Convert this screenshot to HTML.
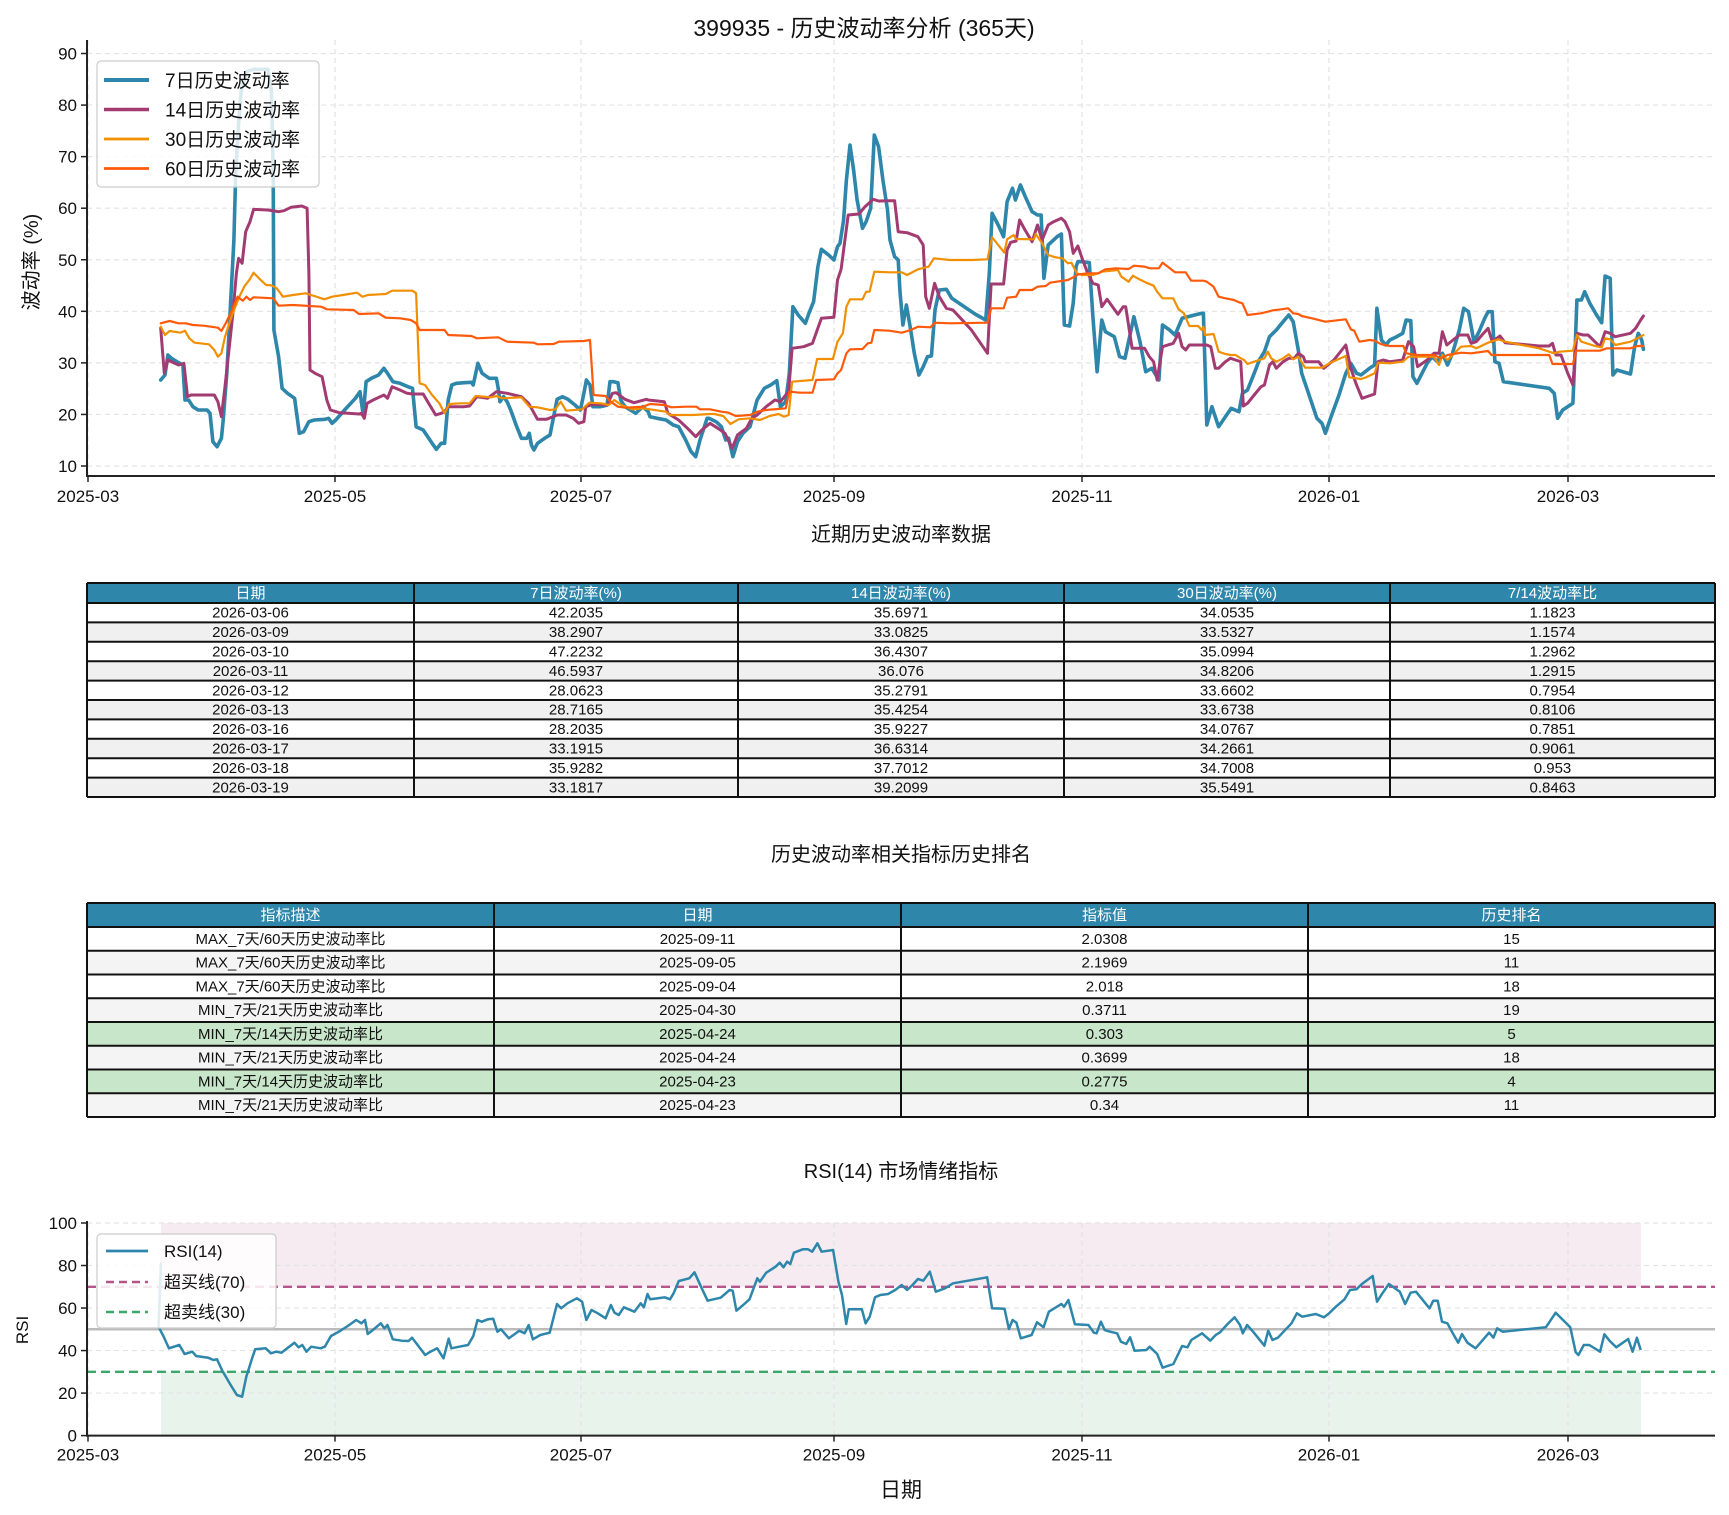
<!DOCTYPE html>
<html><head><meta charset="utf-8"><style>
html,body{margin:0;padding:0;background:#fff;}
svg{display:block;font-family:"WenQuanYi Zen Hei","Liberation Sans","Noto Sans CJK SC",sans-serif;}
</style></head><body>
<svg id="s" width="1729" height="1515" viewBox="0 0 1729 1515" xmlns="http://www.w3.org/2000/svg">
<rect width="1729" height="1515" fill="#fff"/>
<g id="g"></g>
</svg>
<script>
const NS="http://www.w3.org/2000/svg";
const G=document.getElementById('g');
function el(t,a,txt){const e=document.createElementNS(NS,t);for(const k in a)e.setAttribute(k,a[k]);if(txt!==undefined)e.textContent=txt;G.appendChild(e);return e;}
function line(x1,y1,x2,y2,st,w,da){return el('line',{x1,y1,x2,y2,stroke:st,'stroke-width':w,'stroke-dasharray':da||'none'});}
function text(x,y,s,size,anchor,fill,extra){const a={x,y,'font-size':size,'text-anchor':anchor||'middle',fill:fill||'#111'};Object.assign(a,extra||{});return el('text',a,s);}

// ---------- Top chart ----------
const L=87,R=1715,TB=476;
const vy=v=>466-(v-10)*5.156;
const xd=[88,335,581,834,1082,1329,1568];
const xl=['2025-03','2025-05','2025-07','2025-09','2025-11','2026-01','2026-03'];
for(let v=10;v<=90;v+=10){line(L,vy(v),R,vy(v),'#e3e3e3',1.2,'5,4');}
xd.forEach(x=>line(x,40,x,TB,'#e3e3e3',1.2,'5,4'));
text(864,36,'399935 - 历史波动率分析 (365天)',23);
el('text',{x:38,y:262,'font-size':20,'text-anchor':'middle',fill:'#111',transform:'rotate(-90 38 262)'},'波动率 (%)');

function pts(segs){let out=[];let lastx=-1;segs.forEach(([ox,sx,arr])=>{arr.forEach(([zx,zy])=>{const x=ox+zx/sx,y=40+zy/3;if(x>lastx){out.push(x.toFixed(1)+','+y.toFixed(1));lastx=x;}});});return out.join(' ');}
const blue3=[[30,1020],[42,1005],[50,945],[60,955],[75,965],[92,975],[98,1080],[108,1080],[120,1100],[135,1110],[160,1110],[168,1120],[176,1205],[188,1220],[200,1195],[205,1140],[215,1000],[225,800],[235,600],[240,400],[248,250],[256,150],[270,95],[290,88],[330,88],[340,150],[345,400],[347,870],[360,950],[370,1045],[385,1060],[405,1075],[418,1180],[430,1175],[445,1145],[460,1140],[490,1138],[500,1135],[510,1150],[520,1140],[545,1110],[575,1075],[588,1055],[597,1125],[605,1025],[620,1015],[640,1005],[655,985],[665,1000],[680,1025],[700,1030],[722,1040],[735,1045],[745,1160],[765,1170],[790,1210],[802,1228],[815,1210],[825,1210],[835,1080],[845,1035],[858,1030],[880,1028],[900,1027],[905,1035],[918,970],[930,1000],[950,1015],[970,1015],[975,1045],[980,1085],[990,1070],[1000,1085],[1010,1110],[1025,1155],[1040,1195],[1055,1195],[1062,1180],[1068,1215],[1075,1230],[1085,1210],[1105,1195],[1120,1185],[1130,1130],[1140,1078],[1155,1070],[1170,1078],[1190,1095],[1205,1110],[1215,1060],[1222,1020],[1232,1035],[1240,1100],[1260,1100],[1270,1098],[1280,1095],[1288,1025],[1298,1025],[1310,1028],[1318,1080],[1330,1100],[1345,1110],[1360,1120],[1380,1100],[1395,1115],[1400,1130],[1420,1135],[1445,1140],[1465,1155],[1480,1160],[1500,1200],[1515,1235],[1528,1250],[1540,1200],[1560,1135]];
const blue4=[[0,1220],[10,1180],[25,1135],[45,1145],[60,1160],[72,1200],[80,1195],[92,1250],[105,1205],[120,1180],[140,1160],[160,1080],[180,1045],[198,1035],[215,1022],[225,1100],[240,1085],[250,1000],[260,800],[275,825],[295,850],[305,820],[318,785],[330,680],[340,628],[360,645],[375,660],[385,620],[392,610],[402,540],[410,420],[420,315],[430,390],[440,480],[455,565],[465,545],[478,505],[488,285],[500,320],[512,420],[525,510],[532,600],[545,650],[555,660],[560,755],[568,855],[578,795],[590,870],[600,940],[613,1005],[625,980],[637,950],[648,948],[658,810],[670,750],[690,748],[705,775],[740,800],[770,822],[800,840],[810,700],[818,520],[835,555],[850,590],[860,485],[875,445],[883,480],[897,435],[910,468],[930,515],[945,525],[955,525],[963,715],[975,615],[1000,590],[1012,582],[1020,855],[1035,858],[1045,790],[1053,680],[1058,665],[1070,665],[1090,668],[1100,830],[1112,995],[1125,840],[1135,875],[1160,890],[1175,950],[1190,955],[1215,830],[1232,905],[1248,995],[1265,985],[1285,1020],[1295,855],[1315,870],[1330,885],[1350,835],[1385,825],[1405,820]];
const blue5=[[10,820],[20,1155],[35,1100],[55,1160],[75,1130],[92,1105],[115,1115],[125,1060],[140,1050],[160,1000],[175,960],[190,935],[205,890],[225,870],[245,845],[262,825],[275,845],[290,930],[300,1000],[320,1060],[345,1135],[360,1150],[370,1180],[385,1135],[410,1065],[430,1000],[445,970],[462,1000],[475,1005],[500,985],[515,975],[522,805],[535,900],[548,915],[560,900],[580,890],[598,880],[608,840],[622,842],[628,1010],[640,1030],[655,1000],[670,970],[685,950],[700,965],[715,940],[730,975],[745,940],[765,870],[778,805],[792,815],[808,905],[823,875],[840,835],[850,815],[862,815],[870,965],[882,970],[895,1025],[1030,1045],[1045,1060],[1055,1135],[1070,1110],[1100,1090],[1105,970],[1112,780],[1125,780],[1135,755],[1150,790],[1170,825],[1185,848],[1195,708],[1210,715],[1218,1005],[1230,990],[1270,1002],[1282,920],[1293,880],[1303,900],[1308,928]];
const pur3=[[30,865],[40,1000],[50,960],[60,965],[80,975],[95,970],[105,1070],[115,1065],[140,1065],[180,1065],[190,1085],[200,1130],[210,1040],[220,940],[232,820],[242,700],[248,655],[258,670],[268,575],[280,545],[290,508],[330,510],[360,515],[375,512],[395,502],[425,498],[440,505],[445,700],[448,990],[462,1000],[482,1010],[495,1080],[505,1110],[530,1118],[555,1120],[585,1122],[592,1120],[600,1135],[608,1090],[625,1080],[655,1065],[665,1075],[678,1040],[700,1050],[720,1060],[735,1062],[765,1062],[780,1090],[800,1125],[815,1120],[825,1115],[835,1100],[880,1100],[895,1098],[915,1070],[945,1075],[970,1055],[1000,1060],[1040,1070],[1060,1090],[1085,1138],[1110,1138],[1140,1125],[1165,1125],[1185,1135],[1200,1150],[1215,1145],[1220,1100],[1240,1093],[1280,1095],[1295,1060],[1305,1058],[1330,1078],[1355,1088],[1390,1078],[1395,1080],[1440,1085],[1450,1120],[1480,1140],[1505,1165],[1528,1190],[1545,1170],[1568,1150]];
const pur4=[[0,1175],[20,1155],[50,1165],[70,1180],[90,1225],[105,1185],[130,1165],[145,1135],[160,1125],[185,1100],[210,1080],[225,1085],[240,1065],[248,1055],[258,925],[290,920],[315,910],[340,835],[375,832],[385,720],[395,688],[415,525],[445,522],[462,500],[485,478],[500,483],[545,482],[555,575],[580,578],[610,590],[625,615],[632,770],[642,805],[657,730],[670,770],[690,805],[708,810],[730,835],[760,870],[805,940],[815,732],[850,732],[860,630],[870,607],[885,603],[895,540],[910,570],[930,605],[945,555],[958,600],[975,555],[990,545],[1012,535],[1022,545],[1035,575],[1045,640],[1058,618],[1070,655],[1085,698],[1100,730],[1115,735],[1125,800],[1140,778],[1155,800],[1170,823],[1185,800],[1192,800],[1210,925],[1245,925],[1258,950],[1270,965],[1280,1020],[1295,920],[1325,910],[1340,880],[1350,920],[1360,930],[1370,915],[1405,915]];
const pur5=[[10,915],[20,915],[32,920],[45,985],[55,985],[75,965],[90,955],[105,960],[120,965],[128,1098],[140,1090],[160,1065],[180,1040],[190,1035],[205,975],[215,965],[225,985],[245,965],[262,955],[278,955],[290,940],[305,950],[310,965],[350,965],[365,985],[395,960],[430,915],[445,985],[460,1030],[478,1075],[515,1062],[525,965],[540,960],[560,965],[598,960],[615,905],[630,920],[642,980],[670,960],[690,940],[705,940],[715,875],[728,915],[765,885],[790,885],[800,910],[815,905],[832,885],[850,865],[862,905],[885,888],[900,908],[1000,918],[1030,918],[1040,910],[1050,945],[1065,945],[1085,1000],[1100,1035],[1112,880],[1130,885],[1145,885],[1165,905],[1180,920],[1195,875],[1210,880],[1225,890],[1270,880],[1285,865],[1300,840],[1308,828]];
const or3=[[30,860],[42,885],[55,873],[85,878],[98,872],[110,895],[125,908],[165,913],[180,930],[190,950],[200,940],[210,890],[230,825],[250,770],[265,738],[278,720],[290,698],[305,715],[325,735],[340,736],[355,745],[372,770],[400,765],[435,760],[460,768],[488,778],[510,770],[540,765],[580,758],[595,770],[610,765],[660,762],[678,752],[735,752],[745,760],[755,1030],[770,1035],[790,1065],[810,1090],[825,1120],[838,1092],[870,1090],[895,1090],[912,1068],[955,1072],[970,1068],[985,1075],[1040,1072],[1062,1100],[1085,1102],[1120,1110],[1135,1108],[1150,1085],[1165,1112],[1210,1108],[1230,1088],[1262,1090],[1285,1095],[1300,1080],[1320,1095],[1350,1108],[1380,1105],[1445,1115],[1455,1125],[1480,1125],[1520,1125],[1568,1122]];
const or4=[[0,1120],[40,1122],[65,1128],[85,1152],[108,1138],[140,1135],[168,1140],[195,1128],[220,1122],[235,1130],[248,1125],[258,1025],[315,1020],[328,957],[372,957],[385,905],[400,880],[410,800],[420,778],[455,778],[465,755],[475,755],[488,695],[530,697],[565,697],[580,705],[610,688],[640,680],[655,655],[700,660],[760,660],[805,658],[818,592],[835,615],[852,638],[860,598],[878,585],[885,597],[935,598],[940,582],[958,610],[975,645],[995,652],[1015,655],[1030,670],[1040,668],[1055,700],[1070,705],[1100,705],[1115,700],[1125,695],[1170,690],[1180,710],[1200,725],[1212,707],[1230,718],[1250,728],[1270,737],[1280,755],[1295,775],[1325,775],[1340,808],[1355,820],[1370,858],[1395,858],[1405,870]];
const or5=[[10,860],[15,885],[40,882],[55,935],[75,942],[90,945],[105,945],[120,955],[130,960],[140,972],[160,965],[190,955],[200,935],[210,955],[225,965],[245,955],[262,943],[275,958],[290,950],[310,983],[360,983],[385,968],[430,948],[440,1012],[475,1017],[490,1012],[515,1000],[525,968],[560,970],[598,965],[615,950],[650,950],[690,950],[705,975],[715,945],[730,960],[770,920],[800,918],[815,925],[850,908],[880,898],[900,905],[1000,925],[1045,940],[1060,935],[1100,932],[1112,885],[1125,905],[1165,918],[1185,922],[1195,895],[1210,898],[1225,915],[1270,905],[1290,895],[1308,885]];
const rd3=[[30,850],[55,843],[80,850],[100,850],[120,855],[150,857],[190,863],[200,873],[212,850],[230,810],[245,770],[260,782],[270,770],[280,780],[290,772],[345,775],[360,797],[400,795],[480,800],[495,808],[570,810],[585,822],[640,820],[660,833],[700,835],[730,840],[745,850],[755,870],[825,870],[835,885],[900,888],[915,895],[975,892],[1000,905],[1075,908],[1085,913],[1130,912],[1145,905],[1215,903],[1232,900],[1242,1065],[1275,1068],[1290,1085],[1310,1100],[1330,1103],[1380,1100],[1400,1092],[1440,1095],[1460,1102],[1500,1100],[1530,1100],[1540,1108],[1568,1108]];
const rd4=[[0,1108],[25,1107],[60,1115],[80,1118],[100,1128],[140,1125],[160,1115],[185,1110],[240,1105],[250,1055],[280,1058],[315,1058],[325,1020],[375,1018],[385,1000],[395,990],[410,940],[420,928],[455,927],[470,910],[480,908],[488,870],[530,872],[565,878],[590,870],[610,860],[645,862],[658,848],[700,850],[805,848],[815,805],[850,805],[860,773],[885,770],[895,750],[930,750],[945,740],[968,738],[980,728],[1030,720],[1045,712],[1060,703],[1085,700],[1115,700],[1135,688],[1165,685],[1200,687],[1215,677],[1245,680],[1260,685],[1285,685],[1295,668],[1310,680],[1330,697],[1360,697],[1375,722],[1405,722]];
const rd5=[[10,722],[20,725],[40,740],[55,770],[75,775],[100,780],[115,787],[125,790],[140,825],[180,820],[200,815],[215,811],[240,808],[260,805],[275,820],[290,822],[300,828],[330,835],[370,845],[430,838],[445,868],[455,872],[470,905],[500,900],[515,902],[535,913],[560,918],[600,918],[608,940],[640,945],[690,945],[710,955],[730,945],[770,938],[800,940],[850,933],[860,945],[900,945],[1030,945],[1040,972],[1070,972],[1100,972],[1110,932],[1180,932],[1200,925],[1225,925],[1270,925],[1290,918],[1308,918]];
function pl(p,c,w){el('polyline',{points:p,fill:'none',stroke:c,'stroke-width':w,'stroke-linejoin':'round','stroke-linecap':'round'});}
pl(pts([[150,2.8,blue3],[700,2.8,blue4],[1200,2.95,blue5]]),'#2e86ab',3.6);
pl(pts([[150,2.8,pur3],[700,2.8,pur4],[1200,2.95,pur5]]),'#a23b72',3);
pl(pts([[150,2.8,or3],[700,2.8,or4],[1200,2.95,or5]]),'#f18f01',2.2);
pl(pts([[150,2.8,rd3],[700,2.8,rd4],[1200,2.95,rd5]]),'#ff5a0a',2.2);
line(L,40,L,TB+1,'#222',2);line(L-1,TB,R,TB,'#222',2);
for(let v=10;v<=90;v+=10){line(L-6,vy(v),L,vy(v),'#222',1.5);text(L-10,vy(v)+6,String(v),17,'end');}
xd.forEach((x,i)=>{line(x,TB,x,TB+6,'#222',1.5);text(x,TB+26,xl[i],17);});
el('rect',{x:97,y:61,width:222,height:126,rx:4,fill:'#fff','fill-opacity':0.82,stroke:'#ccc','stroke-width':1.2});
[['7日历史波动率','#2e86ab',3.6],['14日历史波动率','#a23b72',3],['30日历史波动率','#f18f01',2.2],['60日历史波动率','#ff5a0a',2.2]].forEach((d,i)=>{const y=80+i*29.5;line(104,y,149,y,d[1],d[2]+0.5);text(165,y+7,d[0],19,'start');});

// ---------- Table 1 ----------
text(901,541,'近期历史波动率数据',20);
const t1c=[87,414,738,1064,1390,1715];
const t1h=['日期','7日波动率(%)','14日波动率(%)','30日波动率(%)','7/14波动率比'];
const t1=[['2026-03-06','42.2035','35.6971','34.0535','1.1823'],['2026-03-09','38.2907','33.0825','33.5327','1.1574'],['2026-03-10','47.2232','36.4307','35.0994','1.2962'],['2026-03-11','46.5937','36.076','34.8206','1.2915'],['2026-03-12','28.0623','35.2791','33.6602','0.7954'],['2026-03-13','28.7165','35.4254','33.6738','0.8106'],['2026-03-16','28.2035','35.9227','34.0767','0.7851'],['2026-03-17','33.1915','36.6314','34.2661','0.9061'],['2026-03-18','35.9282','37.7012','34.7008','0.953'],['2026-03-19','33.1817','39.2099','35.5491','0.8463']];
function table(cols,top,hh,rh,head,rows,fills,fs){
  el('rect',{x:cols[0],y:top,width:cols[cols.length-1]-cols[0],height:hh,fill:'#2e86ab'});
  rows.forEach((r,i)=>el('rect',{x:cols[0],y:top+hh+i*rh,width:cols[cols.length-1]-cols[0],height:rh,fill:fills[i]}));
  const bot=top+hh+rows.length*rh;
  for(let i=0;i<=rows.length;i++){const y=i==0?top:top+hh+(i-1)*rh;line(cols[0],y,cols[cols.length-1],y,'#111',2);}
  line(cols[0],bot,cols[cols.length-1],bot,'#111',2);
  cols.forEach(x=>line(x,top,x,bot,'#111',2));
  head.forEach((h,j)=>text((cols[j]+cols[j+1])/2,top+hh/2+5,h,fs,'middle','#fff'));
  rows.forEach((r,i)=>r.forEach((c,j)=>text((cols[j]+cols[j+1])/2,top+hh+i*rh+rh/2+5,c,fs,'middle','#111')));
}
table(t1c,583,20,19.4,t1h,t1,t1.map((r,i)=>i%2?'#f0f0f0':'#fff'),15);

// ---------- Table 2 ----------
text(901,861,'历史波动率相关指标历史排名',20);
const t2c=[87,494,901,1308,1715];
const t2h=['指标描述','日期','指标值','历史排名'];
const t2=[['MAX_7天/60天历史波动率比','2025-09-11','2.0308','15'],['MAX_7天/60天历史波动率比','2025-09-05','2.1969','11'],['MAX_7天/60天历史波动率比','2025-09-04','2.018','18'],['MIN_7天/21天历史波动率比','2025-04-30','0.3711','19'],['MIN_7天/14天历史波动率比','2025-04-24','0.303','5'],['MIN_7天/21天历史波动率比','2025-04-24','0.3699','18'],['MIN_7天/14天历史波动率比','2025-04-23','0.2775','4'],['MIN_7天/21天历史波动率比','2025-04-23','0.34','11']];
table(t2c,903,24,23.75,t2h,t2,['#fff','#f4f4f4','#fff','#f4f4f4','#c8e6c9','#f4f4f4','#c8e6c9','#f4f4f4'],15);

// ---------- RSI ----------
text(901,1178,'RSI(14) 市场情绪指标',20);
const RT=1223,RB=1435.6;const ry=v=>RB-v*2.126;
el('rect',{x:161,y:ry(100),width:1480,height:ry(70)-ry(100),fill:'#a23b72','fill-opacity':0.1});
el('rect',{x:161,y:ry(30),width:1480,height:RB-ry(30),fill:'#3a9a5e','fill-opacity':0.12});
for(let v=0;v<=100;v+=20){line(L,ry(v),R,ry(v),'#e3e3e3',1.2,'5,4');}
xd.forEach(x=>line(x,RT,x,RB,'#e3e3e3',1.2,'5,4'));
line(L,ry(50),R,ry(50),'#bbb',2.5);
line(L,ry(70),R,ry(70),'#b5558a',2.4,'9,5');
line(L,ry(30),R,ry(30),'#3ca66b',2.4,'9,5');
function rpts(segs){let out=[];let lastx=-1;segs.forEach(([ox,sx,arr])=>{arr.forEach(([zx,zy])=>{const x=ox+zx/sx,y=1210+zy/3;if(x>lastx){out.push(x.toFixed(1)+','+y.toFixed(1));lastx=x;}});});return out.join(' ');}
const r6=[[150,350],[160,380],[170,415],[190,405],[200,432],[215,425],[222,438],[245,443],[255,450],[262,448],[272,482],[290,530],[300,555],[310,560],[318,500],[330,440],[335,418],[355,415],[365,430],[375,425],[385,428],[400,410],[410,398],[418,412],[425,405],[433,425],[442,410],[460,415],[468,410],[480,378],[495,365],[512,348],[528,330],[538,340],[545,330],[550,372],[560,360],[575,340],[582,355],[588,345],[598,388],[615,392],[628,393],[635,383],[648,410],[660,435],[670,425],[683,415],[695,445],[705,386],[710,415],[725,410],[742,405],[752,378],[760,330],[768,335],[780,328],[790,326],[798,365],[805,358],[820,385],[840,362],[850,370],[858,345],[866,388],[880,375],[898,368],[912,282],[920,295],[932,280],[950,265],[960,275],[968,330],[978,300],[990,310],[1005,325],[1015,285],[1022,308],[1030,315],[1040,292],[1060,305],[1072,280],[1078,292],[1085,252],[1090,268],[1105,265],[1118,262],[1128,268],[1135,250],[1145,213],[1165,205],[1175,187],[1188,232],[1200,272],[1225,263],[1242,240],[1248,242],[1255,302],[1268,285],[1280,268],[1295,205],[1300,215],[1312,188],[1330,170],[1338,158],[1345,172],[1352,155],[1358,162],[1365,128],[1382,118],[1392,118],[1400,125],[1410,100],[1418,125],[1440,120],[1450,215],[1457,255],[1465,342],[1470,298],[1495,298],[1502,340],[1510,320],[1520,262],[1530,255]];
const r7=[[0,252],[15,252],[28,240],[40,225],[50,240],[60,225],[70,207],[80,212],[92,185],[103,245],[120,235],[135,220],[198,202],[207,295],[230,296],[238,357],[245,330],[252,338],[260,385],[280,375],[290,337],[302,352],[312,305],[325,292],[335,282],[340,290],[348,270],[360,343],[385,345],[395,368],[400,370],[408,335],[415,360],[425,365],[438,370],[445,395],[455,402],[462,382],[470,422],[492,420],[498,410],[512,432],[522,473],[542,462],[558,408],[568,412],[575,390],[595,370],[610,392],[620,375],[628,367],[642,342],[655,322],[665,345],[670,370],[678,345],[690,367],[710,407],[717,362],[725,390],[735,383],[760,340],[770,310],[780,320],[805,312],[820,322],[828,312],[842,290],[858,268],[868,240],[880,238],[890,222],[910,198],[918,275],[928,250],[940,222],[960,245],[970,282],[980,248],[990,245],[1015,295],[1022,272],[1030,272],[1038,335],[1048,340],[1058,370],[1068,398],[1075,372],[1085,398],[1100,415],[1125,368],[1133,383],[1140,355],[1150,365],[1230,352],[1248,308],[1275,352],[1285,427],[1290,435],[1300,405],[1310,405],[1330,425],[1338,373],[1348,393],[1360,412],[1382,387],[1390,425],[1398,383],[1405,420]];
const rp=rpts([[80,1.912,r6],[880,1.847,r7]]);
el('polyline',{points:'161,1262.6 '+rp,fill:'none',stroke:'#2e86ab','stroke-width':2.5,'stroke-linejoin':'round'});
line(L,RT-2,L,RB+1,'#222',2);line(L-1,RB,R,RB,'#222',2);
for(let v=0;v<=100;v+=20){line(L-6,ry(v),L,ry(v),'#222',1.5);text(L-10,ry(v)+6,String(v),17,'end');}
xd.forEach((x,i)=>{line(x,RB,x,RB+6,'#222',1.5);text(x,RB+25,xl[i],17);});
el('text',{x:28,y:1330,'font-size':17,'text-anchor':'middle',fill:'#111',transform:'rotate(-90 28 1330)'},'RSI');
text(901,1497,'日期',21);
el('rect',{x:97,y:1234,width:179,height:94,rx:4,fill:'#fff','fill-opacity':0.85,stroke:'#ccc','stroke-width':1.2});
line(106,1251,148,1251,'#2e86ab',2.8);text(164,1257,'RSI(14)',17,'start');
line(106,1282,148,1282,'#b5558a',2.6,'8,5');text(164,1288,'超买线(70)',17,'start');
line(106,1312,148,1312,'#3ca66b',2.6,'8,5');text(164,1318,'超卖线(30)',17,'start');
</script>
</body></html>
